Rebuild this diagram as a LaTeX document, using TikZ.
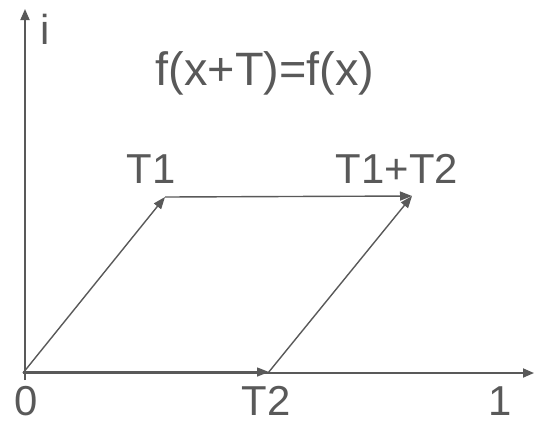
\documentclass[tikz,border=0pt]{standalone}
\usepackage{fontspec}
\setmainfont{Liberation Sans}
\usetikzlibrary{arrows.meta}
\definecolor{ink}{HTML}{595959}
\tikzset{
  axis/.style={draw=ink, line width=1.8bp, -{Triangle[length=11bp,width=9bp]}},
  vec/.style={draw=ink, line width=1.4bp, -{Triangle[length=12bp,width=9bp]}},
  seg/.style={draw=ink, line width=1.4bp},
  lbl/.style={text=ink, anchor=base, inner sep=0pt, font=\fontsize{42}{48}\selectfont},
  big/.style={lbl, font=\fontsize{47}{54}\selectfont}
}
\begin{document}
\begin{tikzpicture}[x=1bp,y=-1bp]
\useasboundingbox (0,0) rectangle (534,422);
\coordinate (O) at (23,373);
\coordinate (Ob) at (25,380);
\coordinate (Yt) at (25,9);
\coordinate (Xt) at (534,373);
\coordinate (Ov) at (23,372);
\coordinate (P1) at (165,197);
\coordinate (P2) at (269,372);
\coordinate (P2s) at (268,373);
\coordinate (P12) at (412,196);
% axes
\draw[axis] (Ob) -- (Yt);
\draw[axis] (O) -- (Xt);
% vectors
\draw[vec] (O) -- (P1);
\draw[vec] (P1) -- (P12);
\draw[vec] (Ov) -- (P2);
\draw[vec] (P2s) -- (P12);
% labels
\node[lbl] (li) at (45,44) {i};
\node[big] (lf) at (265,85) {f(x+T)=f(x)};
\node[lbl] (lt1) at (151,183) {T1};
\node[lbl] (lt12) at (397,183) {T1+T2};
\node[lbl] (l0) at (26,415) {0};
\node[lbl] (lt2) at (266,415) {T2};
\node[lbl] (l1) at (500,415) {1};
\end{tikzpicture}
\end{document}
